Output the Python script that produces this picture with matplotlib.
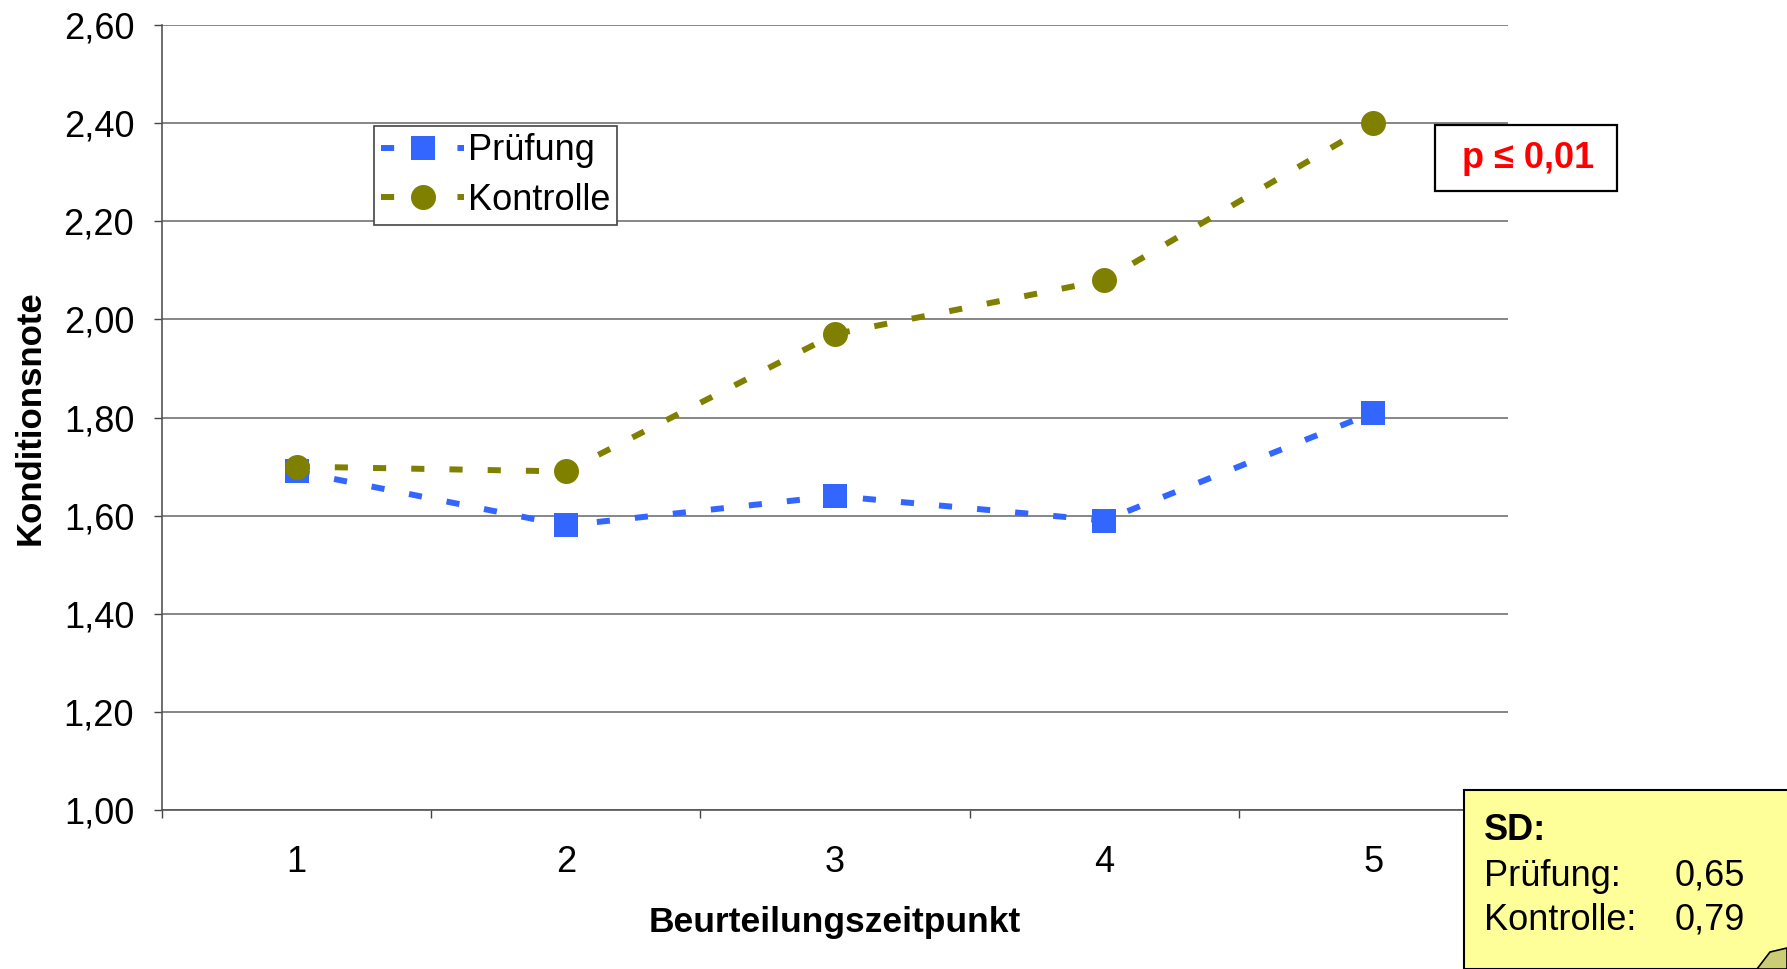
import matplotlib
matplotlib.use("Agg")
import matplotlib.pyplot as plt
from matplotlib.patches import Rectangle, Polygon
from matplotlib.ticker import FixedLocator, FuncFormatter

plt.rcParams['font.family'] = ['Liberation Sans', 'DejaVu Sans']

# Data
zeitpunkte = [1, 2, 3, 4, 5]
pruefung = [1.69, 1.58, 1.64, 1.59, 1.81]
kontrolle = [1.70, 1.69, 1.97, 2.08, 2.40]
y_ticks = [1.00, 1.20, 1.40, 1.60, 1.80, 2.00, 2.20, 2.40, 2.60]
sd_pruefung = 0.65
sd_kontrolle = 0.79

W, H, DPI = 1787, 969, 100
FS = 26
fig = plt.figure(figsize=(W / DPI, H / DPI), dpi=DPI)
fig.patch.set_facecolor('white')

# SD note box (drawn behind the axes)
fig.patches.append(Rectangle((1464 / W, 0), 1 - 1464 / W + 0.01, 1 - 790 / H,
                             transform=fig.transFigure, facecolor='#FFFF99',
                             edgecolor='black', linewidth=1.5, zorder=0))
fig.patches.append(Polygon([(1757 / W, 0), (1770 / W, 1 - 952 / H),
                            (1787 / W, 1 - 948 / H), (1787 / W, 0)],
                           closed=True, transform=fig.transFigure,
                           facecolor='#CCCC77', edgecolor='black',
                           linewidth=1.2, zorder=1))

ax = fig.add_axes([162 / W, 1 - 810 / H, (1508 - 162) / W, (810 - 25) / H])
ax.patch.set_alpha(0)

blue = '#3366FF'
olive = '#808000'
ax.plot(zeitpunkte, pruefung, color=blue, linewidth=4.3, dashes=(2.2, 4.2),
        marker='s', markersize=17, markeredgewidth=0, label='Prüfung', zorder=3)
ax.plot(zeitpunkte, kontrolle, color=olive, linewidth=4.3, dashes=(2.2, 4.2),
        marker='o', markersize=18, markeredgewidth=0, label='Kontrolle', zorder=4)

ax.set_xlim(0.5, 5.5)
ax.set_ylim(1.0, 2.6)
ax.set_yticks(y_ticks)
ax.yaxis.set_major_formatter(FuncFormatter(lambda v, p: f'{v:.2f}'.replace('.', ',')))
ax.yaxis.grid(True, color='#666666', linewidth=1.1)
ax.set_axisbelow(True)

ax.set_xticks(zeitpunkte)
ax.xaxis.set_minor_locator(FixedLocator([0.5, 1.5, 2.5, 3.5, 4.5, 5.5]))
ax.tick_params(axis='x', which='major', length=0, pad=25, labelsize=FS)
ax.tick_params(axis='x', which='minor', length=6, width=1, direction='out', color='#444444')
ax.tick_params(axis='y', length=6, width=1, pad=14, labelsize=FS, color='#444444')

for s in ('top', 'right'):
    ax.spines[s].set_visible(False)
for s in ('left', 'bottom'):
    ax.spines[s].set_color('#555555')
    ax.spines[s].set_linewidth(1.2)

ax.set_xlabel('Beurteilungszeitpunkt', fontsize=25.5, fontweight='bold', labelpad=19)
ax.set_ylabel('Konditionsnote', fontsize=25, fontweight='bold', labelpad=12)

leg = ax.legend(loc='upper left', bbox_to_anchor=((374 - 162) / 1346, (810 - 126) / 785),
                borderaxespad=0, fontsize=FS, frameon=True, fancybox=False,
                framealpha=1, edgecolor='#444444', handlelength=2.3,
                handletextpad=0.1, borderpad=0.2, labelspacing=0.4)
leg.get_frame().set_linewidth(1.2)

# Significance box
fig.patches.append(Rectangle((1435 / W, 1 - 191 / H), (1617 - 1435) / W, (191 - 125) / H,
                             transform=fig.transFigure, facecolor='white',
                             edgecolor='black', linewidth=1.6, zorder=5))
fig.text(1528 / W, 1 - 159 / H, 'p ≤ 0,01', color='red', fontsize=FS, fontweight='bold',
         ha='center', va='center', zorder=6)

# SD text
fig.text(1484 / W, 1 - 830 / H, 'SD:', fontsize=FS, fontweight='bold', va='center')
fig.text(1484 / W, 1 - 876 / H, 'Prüfung:', fontsize=FS, va='center')
fig.text(1484 / W, 1 - 920 / H, 'Kontrolle:', fontsize=FS, va='center')
fig.text(1675 / W, 1 - 876 / H, f'{sd_pruefung:.2f}'.replace('.', ','), fontsize=FS, va='center')
fig.text(1675 / W, 1 - 920 / H, f'{sd_kontrolle:.2f}'.replace('.', ','), fontsize=FS, va='center')

fig.savefig('out.png', dpi=DPI, facecolor='white')
